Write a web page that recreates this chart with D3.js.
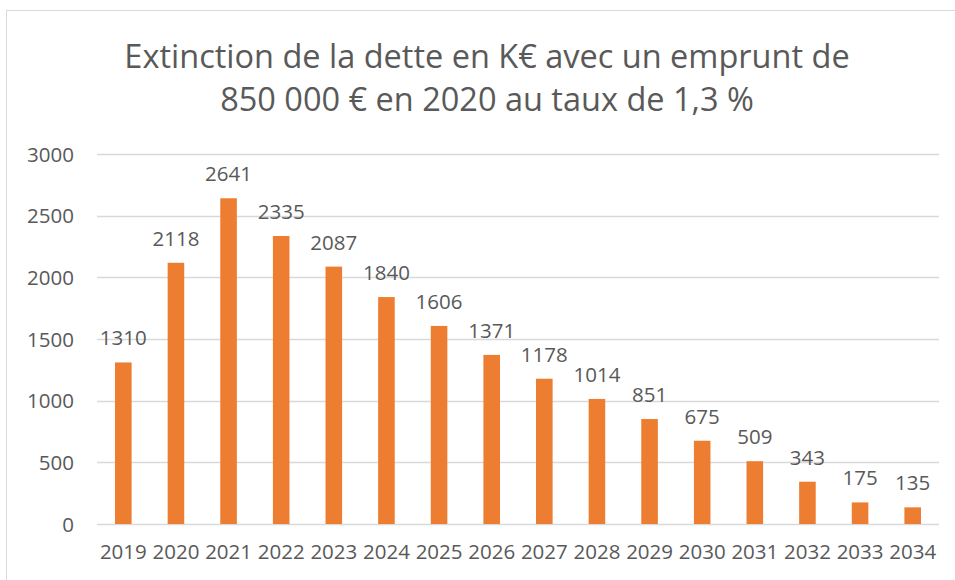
<!DOCTYPE html>
<html>
<head>
<meta charset="utf-8">
<script src="https://cdn.jsdelivr.net/npm/d3@7"></script>
<style>
  html, body { margin: 0; padding: 0; background: #fff; overflow: hidden; }
  svg { display: block; }
  svg text { font-family: "Open Sans", sans-serif; fill: #595959; }
</style>
</head>
<body>
<div id="chart"></div>
<script>
// data
const years = ["2019","2020","2021","2022","2023","2024","2025","2026","2027","2028","2029","2030","2031","2032","2033","2034"];
const values = [1310, 2118, 2641, 2335, 2087, 1840, 1606, 1371, 1178, 1014, 851, 675, 509, 343, 175, 135];
const yTicks = [0, 500, 1000, 1500, 2000, 2500, 3000];
const titleLines = ["Extinction de la dette en K€ avec un emprunt de", "850 000 € en 2020 au taux de 1,3 %"];

let width = 955, height = 580;
let margin = {top: 154, right: 16, bottom: 56, left: 97};
let innerWidth = width - margin.left - margin.right;
let innerHeight = height - margin.top - margin.bottom;

let svg = d3.select("#chart").append("svg")
  .attr("width", width)
  .attr("height", height);

// outer frame: only top and left edges show in the picture
svg.append("line")
  .attr("x1", 6.5).attr("x2", 6.5).attr("y1", 10).attr("y2", height)
  .attr("stroke", "#d9d9d9");
svg.append("line")
  .attr("x1", 6).attr("x2", width).attr("y1", 10.5).attr("y2", 10.5)
  .attr("stroke", "#d9d9d9");

// title, two lines
svg.selectAll(".title")
  .data(titleLines)
  .join("text")
  .attr("class", "title")
  .attr("x", 487)
  .attr("y", (d, i) => 68 + i * 43)
  .attr("text-anchor", "middle")
  .style("font-size", "32.5px")
  .text(d => d);

let g = svg.append("g")
  .attr("transform", "translate(" + margin.left + "," + margin.top + ")");

let x = d3.scaleBand()
  .domain(years)
  .range([0, innerWidth])
  .paddingInner(0.685)
  .paddingOuter(0.3425);

let y = d3.scaleLinear()
  .domain([0, 3000])
  .range([innerHeight, 0]);

// gridlines
g.append("g")
  .selectAll("line")
  .data(yTicks)
  .join("line")
  .attr("x1", 0).attr("x2", innerWidth)
  .attr("y1", d => Math.round(y(d)) + 0.5)
  .attr("y2", d => Math.round(y(d)) + 0.5)
  .attr("stroke", "#d9d9d9")
  .attr("stroke-width", 1.5);

// y axis labels
let yAxis = d3.axisLeft(y).tickValues(yTicks).tickFormat(d3.format("d")).tickSize(0).tickPadding(23);
g.append("g").call(yAxis)
  .call(s => s.select(".domain").remove())
  .selectAll("text")
  .style("font-size", "20.5px")
  .attr("dy", "0.35em");

// x axis labels
let xAxis = d3.axisBottom(x).tickSize(0).tickPadding(20);
g.append("g")
  .attr("transform", "translate(0," + innerHeight + ")")
  .call(xAxis)
  .call(s => s.select(".domain").remove())
  .selectAll("text")
  .style("font-size", "20.5px");

// bars
g.selectAll(".bar")
  .data(values)
  .join("rect")
  .attr("class", "bar")
  .attr("x", (d, i) => x(years[i]))
  .attr("y", d => y(d))
  .attr("width", x.bandwidth())
  .attr("height", d => innerHeight - y(d))
  .attr("fill", "#ED7D31");

// value labels
g.selectAll(".lbl")
  .data(values)
  .join("text")
  .attr("class", "lbl")
  .attr("x", (d, i) => x(years[i]) + x.bandwidth() / 2)
  .attr("y", d => y(d) - 17)
  .attr("text-anchor", "middle")
  .style("font-size", "20.5px")
  .text(d => d);
</script>
</body>
</html>
